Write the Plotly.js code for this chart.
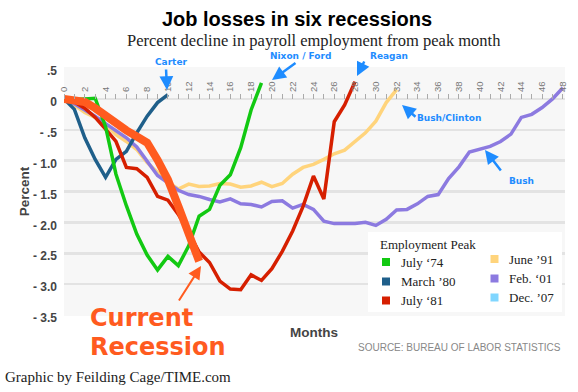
<!DOCTYPE html>
<html><head><meta charset="utf-8">
<script src="https://cdn.plot.ly/plotly-3.0.1.min.js"></script>
<style>html,body{margin:0;padding:0;background:#fff}#chart{width:578px;height:392px}</style>
</head><body><div id="chart"></div>
<script>
// ---- data (percent decline from peak month, by months since peak) ----
const seriesNames = ["July \u201874", "March \u201980", "July \u201881", "June \u201991", "Feb. \u201801", "Dec. \u201907"];
const legendColors = ["#12c912", "#1f5f8a", "#d61f00", "#ffd47c", "#8c7ae0", "#80d6ff"];
const july74 = [0, -0.01, 0, 0.01, -0.45, -1.22, -1.73, -2.19, -2.53, -2.77, -2.55, -2.7, -2.38, -1.9, -1.79, -1.4, -1.23, -0.79, -0.18, 0.26];
const march80 = [0, -0.17, -0.63, -0.98, -1.27, -0.98, -0.85, -0.55, -0.28, -0.06, 0.07];
const july81 = [0, -0.05, -0.15, -0.3, -0.49, -0.69, -1.11, -1.13, -1.27, -1.58, -1.64, -1.87, -2.16, -2.48, -2.65, -2.95, -3.08, -3.09, -2.85, -2.94, -2.75, -2.47, -2.14, -1.74, -1.25, -1.62, -0.37, -0.1, 0.28];
const june91 = [0, -0.1, -0.22, -0.3, -0.41, -0.58, -0.69, -0.82, -1.03, -1.19, -1.35, -1.46, -1.38, -1.42, -1.41, -1.37, -1.38, -1.43, -1.41, -1.35, -1.42, -1.37, -1.22, -1.11, -1.06, -0.98, -0.89, -0.83, -0.69, -0.55, -0.36, -0.06, 0.15];
const feb01 = [0, -0.08, -0.18, -0.28, -0.4, -0.52, -0.63, -0.78, -1.02, -1.24, -1.36, -1.48, -1.55, -1.58, -1.63, -1.67, -1.62, -1.7, -1.71, -1.75, -1.66, -1.65, -1.77, -1.71, -1.79, -1.98, -2.02, -2.02, -2.02, -2.0, -2.05, -1.95, -1.8, -1.79, -1.7, -1.58, -1.55, -1.29, -1.1, -0.86, -0.81, -0.77, -0.69, -0.57, -0.3, -0.25, -0.14, 0.0, 0.18];
const dec07 = [0, -0.01, -0.05, -0.15, -0.28, -0.40, -0.51, -0.61, -0.71, -0.99, -1.31, -1.74, -2.15, -2.63];
const currentColor = "#ff5b1f";
const yTickVals = [0.5, 0, -0.5, -1, -1.5, -2, -2.5, -3, -3.5];
const yTickText = [".5", "0", "- .5", "- 1.0", "- 1.5", "- 2.0", "- 2.5", "- 3.0", "- 3.5"];
const presLabels = ["Carter", "Nixon / Ford", "Reagan", "Bush/Clinton", "Bush"];

// ---- layout geometry (pixels) ----
const L = 64, R = 565, T = 67, B = 316;
const px = x => (x - L) / (R - L);
const py = y => (B - y) / (B - T);
const yRange = [-3.5 - 1 / 61.75, 0.5 + 1 / 61.75];

const idx = a => a.map((_, i) => i);
const mk = (arr, color, width) => ({
  type: "scatter", mode: "lines", x: idx(arr), y: arr,
  line: {color: color, width: width}, showlegend: false, hoverinfo: "skip"
});
const traces = [
  mk(june91, legendColors[3], 3.5),
  mk(feb01, legendColors[4], 3.5),
  mk(march80, legendColors[1], 3.5),
  mk(july81, legendColors[2], 3.5),
  mk(july74, legendColors[0], 3.5),
  mk(dec07, currentColor, 8)
];

const blue = "#1e8cff";
const ann = [];
const txt = (text, x, y, font, xanchor) => ann.push({
  text: text, xref: "paper", yref: "paper", x: px(x), y: py(y),
  xanchor: xanchor || "center", yanchor: "middle", showarrow: false, font: font
});
const arrow = (hx, hy, tx, ty, color, w, size) => ann.push({
  text: "", xref: "paper", yref: "paper", x: px(hx), y: py(hy),
  ax: tx - hx, ay: ty - hy, showarrow: true, arrowhead: 2, arrowsize: size,
  arrowwidth: w, arrowcolor: color
});
const bf = {family: "DejaVu Sans", size: 9, color: blue, weight: "bold"};
txt(presLabels[0], 171, 62, bf);
txt(presLabels[1], 300, 55.5, bf);
txt(presLabels[2], 389, 55.5, bf);
txt(presLabels[3], 449, 118, bf);
txt(presLabels[4], 521, 181, bf);
arrow(167, 90, 166, 68, blue, 2.5, 1.1);
arrow(272, 80, 297, 62, blue, 2.5, 1.1);
arrow(357, 76, 365, 60, blue, 2.5, 1.1);
arrow(402, 105, 417, 118, blue, 2.5, 1.1);
arrow(485, 150, 502, 172, blue, 2.5, 1.1);
arrow(201, 266, 178, 302, currentColor, 2, 1.3);

txt("Percent decline in payroll employment from peak month", 314, 40.5, {family: "Liberation Serif", size: 16.5, color: "#222"});
txt("Months", 314, 332, {family: "Liberation Sans", size: 13.5, color: "#444", weight: "bold"});
txt("SOURCE: BUREAU OF LABOR STATISTICS", 563, 347, {family: "Liberation Sans", size: 10, color: "#888"}, "right");
txt("Graphic by Feilding Cage/TIME.com", 3, 377, {family: "Liberation Serif", size: 15, color: "#222"}, "left");
const cf = {family: "DejaVu Sans", size: 24, color: currentColor, weight: "bold"};
txt("Current", 88, 318, cf, "left");
txt("Recession", 88, 347, cf, "left");

// legend box
const shapes = [{type: "rect", xref: "paper", yref: "paper", x0: px(368), x1: px(562), y0: py(312), y1: py(232),
  fillcolor: "#ffffff", line: {width: 0}, layer: "above"}];
txt("Employment Peak", 378, 244, {family: "Liberation Serif", size: 13, color: "#222"}, "left");
const legPos = [[386, 262], [386, 281.5], [386, 300.5], [494.5, 259], [494.5, 278.5], [494.5, 297.5]];
seriesNames.forEach((n, i) => {
  const [cx, cy] = legPos[i];
  shapes.push({type: "rect", xref: "paper", yref: "paper", x0: px(cx - 4), x1: px(cx + 4), y0: py(cy + 4), y1: py(cy - 4),
    fillcolor: legendColors[i], line: {width: 0}, layer: "above"});
  txt(n, cx + 12.5, cy, {family: "Liberation Serif", size: 13, color: "#222"}, "left");
});

const layout = {
  width: 578, height: 392,
  margin: {l: L, r: 578 - R, t: T, b: 392 - B, pad: 0},
  paper_bgcolor: "#ffffff", plot_bgcolor: "#f7f7f7",
  showlegend: false,
  title: {text: "Job losses in six recessions", xref: "container", yref: "container",
    x: 297 / 578, y: 1 - 19 / 392, xanchor: "center", yanchor: "middle",
    font: {family: "Liberation Sans", size: 20, color: "#000", weight: "bold"}},
  xaxis: {range: [0, 48.2], anchor: "free", position: -yRange[0] / (yRange[1] - yRange[0]),
    side: "top", ticks: "outside", ticklen: 5, tickwidth: 1, tickcolor: "#aaa",
    tick0: 0, dtick: 2, tickangle: -90, tickfont: {family: "Liberation Sans", size: 9.5, color: "#777"},
    showgrid: false, zeroline: false, showline: false, fixedrange: true,
    minor: {dtick: 1, ticks: "outside", ticklen: 5, tickwidth: 1, tickcolor: "#aaa", showgrid: false}},
  yaxis: {range: yRange, tickvals: yTickVals, ticktext: yTickText,
    tickfont: {family: "Liberation Sans", size: 12, color: "#444", weight: "bold"},
    ticks: "", ticklabelstandoff: 6, ticklabelshift: 3,
    showgrid: true, gridcolor: "#e3e3e3", gridwidth: 2.5, zeroline: false, showline: false,
    title: {text: "Percent", standoff: 0, font: {family: "Liberation Sans", size: 13.5, color: "#444", weight: "bold"}}},
  annotations: ann, shapes: shapes
};
Plotly.newPlot("chart", traces, layout, {staticPlot: true, displayModeBar: false});
</script></body></html>
